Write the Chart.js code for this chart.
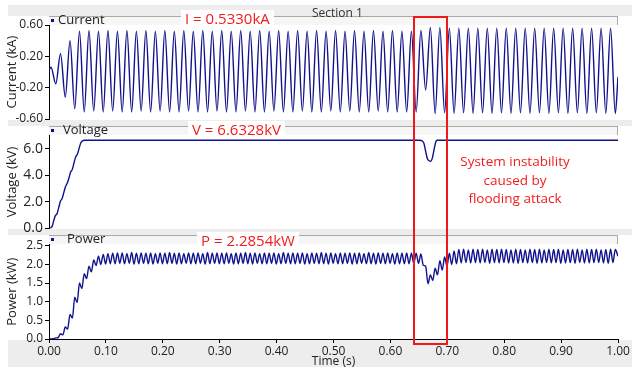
<!DOCTYPE html>
<html><head><meta charset="utf-8">
<script src="https://cdn.jsdelivr.net/npm/chart.js@4.4.1/dist/chart.umd.min.js"></script>
<style>
html,body{margin:0;padding:0;background:#fff;}
#wrap{position:relative;width:632px;height:369px;overflow:hidden;font-family:"Open Sans",sans-serif;background:#fff;}
.band{position:absolute;left:8px;right:0;background:#ededed;}
.leg{position:absolute;left:49px;width:568px;height:8px;background:#f6f6f6;border-top:1px solid #a9a9a9;border-right:1px solid #a9a9a9;}
canvas{position:absolute;left:0;top:0;}
.txt{position:absolute;white-space:nowrap;line-height:1;}
.lg{font-size:13px;color:#222;}
.dot{position:absolute;width:3px;height:3px;background:#10108a;}
.red{color:#f21c1c;font-size:15px;background:#fff;padding:1px 4px;}
#box{position:absolute;left:413px;top:16px;width:31px;height:325px;border:2px solid #f01818;z-index:5;}
#note{position:absolute;left:440px;top:152px;width:150px;text-align:center;color:#f21c1c;font-size:13.5px;line-height:18.5px;}
</style></head>
<body><div id="wrap">
<div class="band" style="top:5px;height:11px;"></div>
<div class="band" style="top:120px;height:6px;"></div>
<div class="band" style="top:229px;height:6px;"></div>
<div class="band" style="top:340px;height:27px;"></div>
<div class="leg" style="top:16px;"></div>
<div class="leg" style="top:126px;"></div>
<div class="leg" style="top:235px;"></div>
<canvas id="c1" width="632" height="369"></canvas>
<canvas id="c2" width="632" height="369"></canvas>
<canvas id="c3" width="632" height="369"></canvas>
<div class="txt" style="left:312px;top:7px;font-size:12px;color:#333;z-index:3;">Section 1</div>
<div class="dot" style="left:51px;top:19px;z-index:3;"></div>
<div class="txt lg" style="left:58px;top:13px;z-index:3;">Current</div>
<div class="dot" style="left:51px;top:129px;z-index:3;"></div>
<div class="txt lg" style="left:63px;top:123px;z-index:3;">Voltage</div>
<div class="dot" style="left:51px;top:238px;z-index:3;"></div>
<div class="txt lg" style="left:67px;top:232px;z-index:3;">Power</div>
<div class="txt red" style="left:181px;top:10px;z-index:4;">I = 0.5330kA</div>
<div class="txt red" style="left:188px;top:121px;z-index:4;">V = 6.6328kV</div>
<div class="txt red" style="left:197px;top:232px;z-index:4;">P = 2.2854kW</div>
<div id="box"></div>
<div id="note">System instability<br>caused by<br>flooding attack</div>
</div>
<script>
// ---------- DATA ----------
const timeTicks = [0, 0.1, 0.2, 0.3, 0.4, 0.5, 0.6, 0.7, 0.8, 0.9, 1.0];
const currentTicks = [-0.6, -0.4, -0.2, 0, 0.2, 0.4, 0.6];
const currentLabelled = [-0.6, -0.2, 0.2, 0.6];
const voltageTicks = [0, 1, 2, 3, 4, 5, 6, 7];
const voltageLabelled = [0, 2, 4, 6];
const powerTicks = [0, 0.5, 1.0, 1.5, 2.0, 2.5];

// current: successive peaks/troughs, one every half cycle (60 Hz) starting at t = 0.0036 s
const currentFirstTime = 0.0036;
const currentHalfCycle = 1 / 120;
const currentStart = { x: 0, y: 0.02 };
const currentEnd = { x: 1.0, y: -0.06 };
const currentExtrema = [
  0.06,-0.15,0.235,-0.32,0.40,-0.47,0.52,-0.51,0.53,-0.50,
  0.52,-0.51,0.53,-0.50,0.52,-0.51,0.53,-0.51,0.52,-0.50,
  0.53,-0.51,0.52,-0.50,0.53,-0.51,0.52,-0.51,0.53,-0.50,
  0.52,-0.51,0.53,-0.51,0.52,-0.50,0.53,-0.51,0.52,-0.51,
  0.53,-0.50,0.52,-0.51,0.53,-0.51,0.52,-0.50,0.53,-0.51,
  0.52,-0.51,0.53,-0.50,0.52,-0.51,0.53,-0.51,0.52,-0.50,
  0.53,-0.51,0.52,-0.50,0.53,-0.51,0.52,-0.51,0.53,-0.50,
  0.52,-0.51,0.53,-0.51,0.52,-0.51,0.52,-0.51,0.53,-0.23,
  0.57,-0.53,0.57,-0.52,0.56,-0.53,0.56,-0.52,0.56,-0.53,
  0.56,-0.52,0.56,-0.53,0.56,-0.52,0.56,-0.53,0.56,-0.52,
  0.56,-0.53,0.56,-0.52,0.56,-0.53,0.56,-0.52,0.56,-0.53,
  0.56,-0.52,0.56,-0.53,0.56,-0.52,0.56,-0.53,0.56,-0.53
];

// voltage (kV)
const voltageTimes = [0,0.003,0.006,0.008,0.011,0.014,0.017,0.020,0.023,0.026,0.029,0.032,0.035,0.038,0.041,0.044,0.047,0.050,0.053,0.056,0.059,0.062,
  0.651,0.656,0.659,0.662,0.665,0.668,0.671,0.674,0.677,0.680,0.682,1.0];
const voltageValues = [0,0.05,0.20,0.55,0.95,1.10,1.55,2.05,2.25,2.70,3.15,3.40,3.80,4.25,4.45,4.95,5.40,5.60,6.05,6.45,6.60,6.64,
  6.64,6.58,6.40,5.80,5.25,5.10,5.06,5.35,6.00,6.55,6.64,6.64];

// power: successive peaks/troughs, one every half cycle of the 120 Hz ripple starting at t = 0.0036 s
const powerFirstTime = 0.0036;
const powerHalfCycle = 1 / 240;
const powerStart = { x: 0, y: 0.0 };
const powerEnd = { x: 1.0, y: 2.22 };
const powerExtrema = [
  0.00,0.01,0.03,0.04,0.14,0.11,0.32,0.27,0.66,0.56,
  1.12,0.98,1.50,1.35,1.75,1.62,1.95,1.80,2.12,1.97,
  2.22,2.00,2.27,2.01,2.29,2.02,2.30,2.02,2.31,2.03,
  2.31,2.02,2.29,2.03,2.32,2.01,2.30,2.02,2.31,2.03,
  2.30,2.02,2.31,2.01,2.29,2.03,2.31,2.02,2.30,2.02,
  2.32,2.03,2.30,2.01,2.31,2.02,2.29,2.03,2.31,2.02,
  2.30,2.02,2.31,2.03,2.29,2.01,2.32,2.02,2.30,2.03,
  2.31,2.02,2.30,2.02,2.31,2.03,2.29,2.01,2.31,2.02,
  2.30,2.03,2.32,2.02,2.30,2.01,2.31,2.03,2.29,2.02,
  2.31,2.02,2.30,2.03,2.31,2.01,2.29,2.02,2.32,2.03,
  2.30,2.02,2.31,2.02,2.30,2.03,2.31,2.01,2.29,2.02,
  2.31,2.03,2.30,2.02,2.32,2.02,2.30,2.01,2.31,2.03,
  2.29,2.02,2.31,2.02,2.30,2.03,2.31,2.01,2.30,2.02,
  2.31,2.03,2.29,2.02,2.32,2.02,2.30,2.01,2.31,2.03,
  2.30,2.02,2.31,2.03,2.29,2.01,2.31,2.02,2.30,2.02,
  2.31,2.02,2.30,2.03,2.30,2.03,2.28,1.98,1.95,1.48,
  1.72,1.57,1.90,1.72,2.10,1.85,2.20,1.95,2.30,2.00,
  2.36,2.02,2.40,2.04,2.41,2.05,2.39,2.04,2.41,2.05,
  2.40,2.04,2.41,2.05,2.39,2.03,2.41,2.05,2.40,2.04,
  2.41,2.05,2.40,2.04,2.39,2.04,2.41,2.03,2.40,2.05,
  2.39,2.04,2.41,2.05,2.40,2.03,2.41,2.04,2.39,2.05,
  2.41,2.04,2.40,2.05,2.41,2.03,2.39,2.04,2.40,2.05,
  2.40,2.03,2.41,2.05,2.39,2.04,2.41,2.04,2.40,2.05,
  2.41,2.05,2.39,2.04,2.40,2.03,2.41,2.05,2.40
];

// ---------- BUILD ----------
const currentPoints = [currentStart].concat(currentExtrema.map((v, k) => ({ x: currentFirstTime + k * currentHalfCycle, y: v })), [currentEnd]);
const voltagePoints = voltageTimes.map((t, i) => ({ x: t, y: voltageValues[i] }));
const powerPoints = [powerStart].concat(powerExtrema.map((v, k) => ({ x: powerFirstTime + k * powerHalfCycle, y: v })), [powerEnd]);

const LINE = '#12128c';
const FONT = '"Open Sans", sans-serif';

function makeChart(id, points, yMin, yMax, yTicks, yLabel, yTitle, padTop, padBottom, showX, tickSize) {
  return new Chart(document.getElementById(id), {
    type: 'line',
    data: { datasets: [{ data: points, borderColor: LINE, borderWidth: 1.4, pointRadius: 0, fill: false, cubicInterpolationMode: 'monotone' }] },
    options: {
      responsive: false, animation: false, devicePixelRatio: 1,
      layout: { padding: { top: padTop, bottom: padBottom, left: 0, right: 14 } },
      plugins: { legend: { display: false }, tooltip: { enabled: false } },
      scales: {
        x: {
          type: 'linear', min: 0, max: 1, display: showX,
          afterBuildTicks: s => { s.ticks = timeTicks.map(v => ({ value: v })); },
          afterFit: s => { s.height = showX ? 30 : 0; },
          grid: { drawOnChartArea: false, drawTicks: true, tickLength: 4, color: '#000' },
          border: { display: true, color: '#000', width: 1 },
          ticks: { font: { family: FONT, size: 12 }, color: '#222', padding: 1, maxRotation: 0, callback: v => v.toFixed(2) },
          title: { display: true, text: 'Time (s)', font: { family: FONT, size: 12 }, color: '#222', padding: { top: 0, bottom: 0 } }
        },
        y: {
          type: 'linear', min: yMin, max: yMax,
          afterBuildTicks: s => { s.ticks = yTicks.map(v => ({ value: v })); },
          afterFit: s => { s.width = 49; },
          grid: { drawOnChartArea: false, drawTicks: true, tickLength: 4, color: '#000' },
          border: { display: true, color: '#000', width: 1 },
          ticks: { font: { family: FONT, size: tickSize }, color: '#222', padding: 2, callback: yLabel },
          title: { display: true, text: yTitle, font: { family: FONT, size: 13 }, color: '#222', padding: { top: 4, bottom: 0 } }
        }
      }
    }
  });
}

makeChart('c1', currentPoints, -0.6, 0.6, currentTicks,
  v => currentLabelled.some(l => Math.abs(l - v) < 1e-6) ? v.toFixed(2) : '',
  'Current (kA)', 25, 369 - 119, false, 12);
makeChart('c2', voltagePoints, 0, 7.0, voltageTicks,
  v => voltageLabelled.includes(v) ? v.toFixed(1) : '',
  'Voltage (kV)', 135.5, 369 - 228.5, false, 14);
makeChart('c3', powerPoints, 0, 2.54, powerTicks,
  v => v.toFixed(1),
  'Power (kW)', 244.3, 0, true, 12);
</script>
</body></html>
